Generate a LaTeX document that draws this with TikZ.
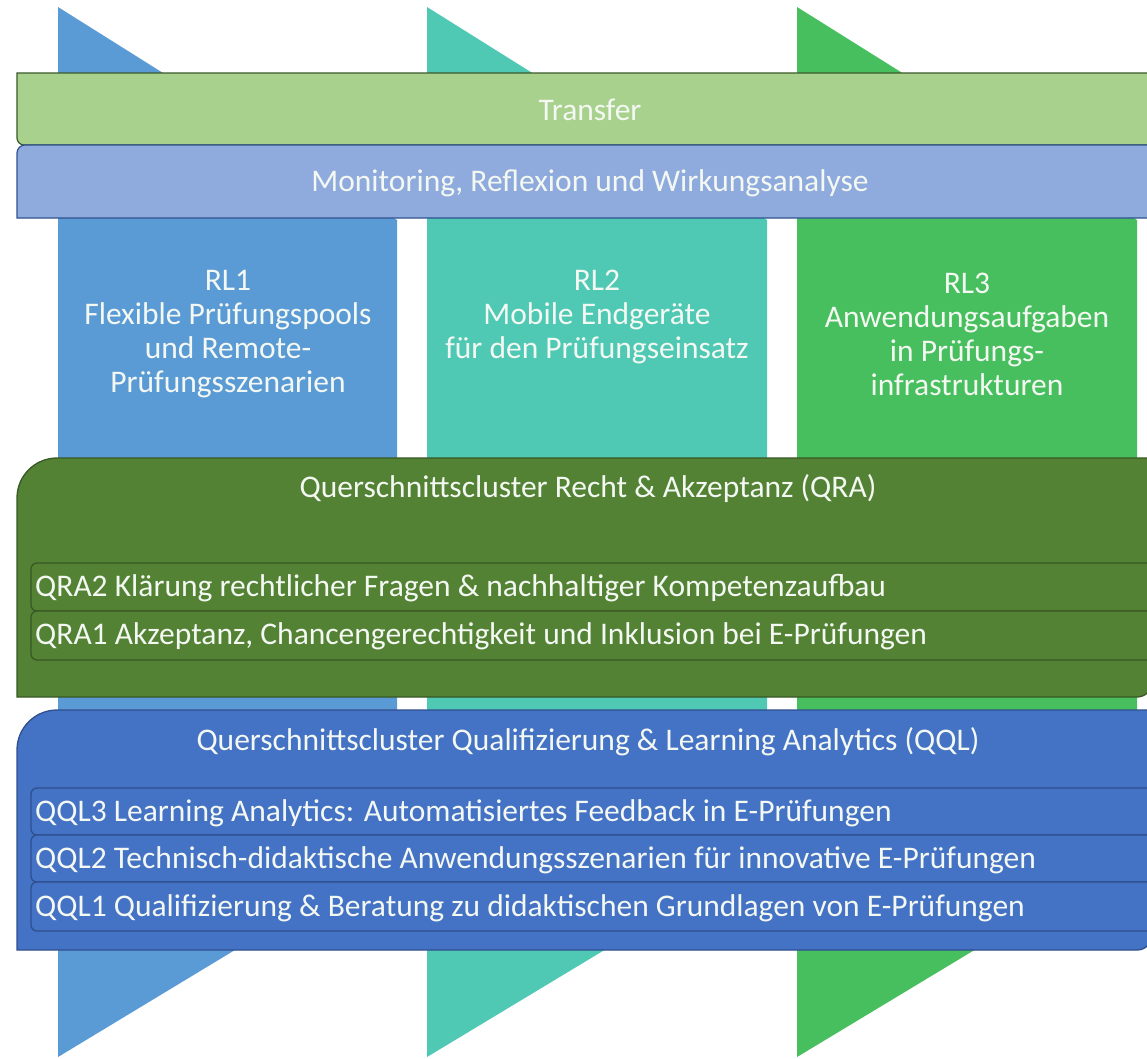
\documentclass[tikz,border=0pt]{standalone}
\usepackage{fontspec}
\setmainfont{Carlito}
\definecolor{rlone}{HTML}{5B9BD5}
\definecolor{rltwo}{HTML}{4FC9B4}
\definecolor{rlthree}{HTML}{48BF5E}
\definecolor{transferfill}{HTML}{A9D18E}
\definecolor{transferline}{HTML}{3B5A2A}
\definecolor{monfill}{HTML}{8FAADC}
\definecolor{monline}{HTML}{2F528F}
\definecolor{qrafill}{HTML}{548235}
\definecolor{qraline}{HTML}{385723}
\definecolor{qqlfill}{HTML}{4472C4}
\definecolor{qqlline}{HTML}{2F4F8F}
\definecolor{txt}{HTML}{F4F8F2}
\tikzset{
  boxtext/.style={text=txt, font=\fontsize{31.5}{34}\selectfont, inner sep=0pt},
  rltext/.style={boxtext, align=center, font=\fontsize{31.5}{34}\selectfont},
  rowtext/.style={boxtext, anchor=west},
  qrarow/.style={fill=qrafill, draw=qraline, line width=1.3pt, rounded corners=6pt},
  qqlrow/.style={fill=qqlfill, draw=qqlline, line width=1.3pt, rounded corners=6pt},
}
\begin{document}
\begin{tikzpicture}[x=1pt,y=-1pt]
\path[use as bounding box] (0,0) rectangle (1147,1058);
\clip (0,0) rectangle (1147,1058);
\fill[white] (0,0) rectangle (1147,1058);
% columns
\fill[rlone]   (58,7)  -- (397,220) -- (397,852) -- (58,1057) -- cycle;
\fill[rltwo]   (427,7) -- (767,220) -- (767,852) -- (427,1057) -- cycle;
\fill[rlthree] (797,7) -- (1137,220) -- (1137,852) -- (797,1057) -- cycle;
% Transfer
\filldraw[fill=transferfill, draw=transferline, line width=1.2pt]
  (17,73) -- (1170,73) -- (1170,145) -- (24,145) arc[start angle=90, end angle=180, radius=7] -- cycle;
% Monitoring
\filldraw[fill=monfill, draw=monline, line width=1.2pt]
  (17,153) arc[start angle=180, end angle=270, radius=8] -- (1170,145) -- (1170,218) -- (17,218) -- cycle;
% QRA
\filldraw[fill=qrafill, draw=qraline, line width=1.3pt]
  (17,498) arc[start angle=180, end angle=270, radius=40] -- (1152,458) -- (1152,682)
  arc[start angle=0, end angle=90, radius=15] -- (17,697) -- cycle;
\draw[qrarow] (31,563) rectangle (1175,611);
\draw[qrarow] (31,611) rectangle (1175,660);
% QQL
\filldraw[fill=qqlfill, draw=qqlline, line width=1.3pt]
  (17,750) arc[start angle=180, end angle=270, radius=40] -- (1152,710) -- (1152,935)
  arc[start angle=0, end angle=90, radius=15] -- (17,950) -- cycle;
\draw[qqlrow] (31,788) rectangle (1175,835);
\draw[qqlrow] (31,835) rectangle (1175,882);
\draw[qqlrow] (31,882) rectangle (1175,931);
% texts
\node[boxtext] (transfer) at (590,110) {Transfer};
\node[boxtext] (monitoring) at (590,183) {Monitoring, Reflexion und Wirkungsanalyse};
\node[rltext] (rl1) at (228,334) {RL1\\Flexible Prüfungspools\\und Remote-\\Prüfungsszenarien};
\node[rltext] (rl2) at (597,317) {RL2\\Mobile Endgeräte\\für den Prüfungseinsatz};
\node[rltext] (rl3) at (967,334) {RL3\\Anwendungsaufgaben\\in Prüfungs-\\infrastrukturen};
\node[boxtext] (qra) at (588,489) {Querschnittscluster Recht \& Akzeptanz (QRA)};
\node[rowtext] (qra2) at (35,588) {QRA2 Klärung rechtlicher Fragen \& nachhaltiger Kompetenzaufbau};
\node[rowtext] (qra1) at (35,636) {QRA1 Akzeptanz, Chancengerechtigkeit und Inklusion bei E-Prüfungen};
\node[boxtext] (qql) at (588,742) {Querschnittscluster Qualifizierung \& Learning Analytics (QQL)};
\node[rowtext] (qql3) at (35,813) {QQL3 Learning Analytics: Automatisiertes Feedback in E-Prüfungen};
\node[rowtext] (qql2) at (35,860) {QQL2 Technisch-didaktische Anwendungsszenarien für innovative E-Prüfungen};
\node[rowtext] (qql1) at (35,908) {QQL1 Qualifizierung \& Beratung zu didaktischen Grundlagen von E-Prüfungen};
\end{tikzpicture}
\end{document}
